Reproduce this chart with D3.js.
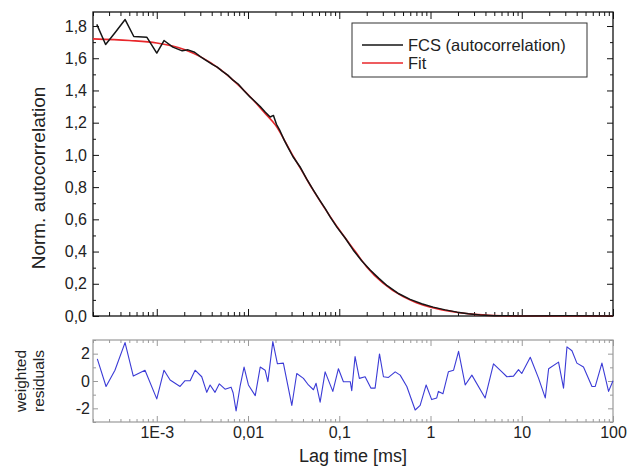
<!DOCTYPE html>
<html>
<head>
<meta charset="utf-8">
<script src="https://cdn.jsdelivr.net/npm/d3@7"></script>
<style>
  body { margin: 0; background: #fff; }
  svg { font-family: Arial, "Liberation Sans", sans-serif; }
</style>
</head>
<body>
<svg id="chart"></svg>
<script>
// Chart size
const width = 634, height = 468;

// Lag time axis (ms), shared by both panels
const lagDomain = [2e-4, 100];
const lagTicks = [1e-3, 1e-2, 1e-1, 1, 10, 100];
const lagTickLabels = ["1E-3", "0,01", "0,1", "1", "10", "100"];

// Autocorrelation axis
const corrTicks = [0, 0.2, 0.4, 0.6, 0.8, 1.0, 1.2, 1.4, 1.6, 1.8];
const corrTickLabels = ["0,0", "0,2", "0,4", "0,6", "0,8", "1,0", "1,2", "1,4", "1,6", "1,8"];

// Residual axis
const resTicks = [-2, 0, 2];
const resTickLabels = ["-2", "0", "2"];

// FCS data: lag time (ms), normalised autocorrelation
const fcsLag = [2.2e-4, 2.75e-4, 3.5e-4, 4.5e-4, 5.6e-4, 7.8e-4, 1.0e-3, 1.2e-3, 1.5e-3, 1.9e-3,
  2.2e-3, 2.6e-3, 3.0e-3, 3.4e-3, 4.1e-3, 4.6e-3, 5.2e-3, 6.0e-3, 6.9e-3, 7.8e-3,
  9.0e-3, 0.0105, 0.012, 0.0136, 0.0155, 0.0175, 0.019, 0.0205, 0.0224, 0.025,
  0.0275, 0.031, 0.0372, 0.044, 0.0516, 0.0617, 0.0705, 0.0794, 0.0946, 0.116,
  0.142, 0.175, 0.218, 0.27, 0.335, 0.45, 0.598, 0.8, 1.07, 1.45,
  1.96, 2.6, 3.5, 5, 9.6, 30, 100];
const fcsValue = [1.81, 1.685, 1.76, 1.84, 1.735, 1.73, 1.632, 1.71, 1.669, 1.646,
  1.652, 1.637, 1.61, 1.59, 1.56, 1.545, 1.52, 1.495, 1.462, 1.44,
  1.40, 1.36, 1.33, 1.30, 1.265, 1.235, 1.245, 1.19, 1.15, 1.09,
  1.045, 0.99, 0.925, 0.85, 0.785, 0.715, 0.665, 0.615, 0.55, 0.484,
  0.41, 0.345, 0.286, 0.235, 0.188, 0.138, 0.103, 0.076, 0.055, 0.038,
  0.024, 0.014, 0.006, 0.002, 0.0, 0.002, 0.0];

// Fit curve
const fitLag = [2e-4, 5e-4, 1e-3, 2e-3, 3e-3, 5e-3, 7e-3, 0.01, 0.015, 0.02,
  0.03, 0.04, 0.05, 0.07, 0.1, 0.15, 0.2, 0.3, 0.5, 0.7,
  1, 2, 3, 5, 10, 100];
const fitValue = [1.72, 1.71, 1.695, 1.655, 1.61, 1.53, 1.46, 1.375, 1.265, 1.185,
  1.01, 0.89, 0.795, 0.665, 0.535, 0.40, 0.305, 0.205, 0.12, 0.083,
  0.055, 0.022, 0.01, 0.003, 0.0, 0.0];

// Weighted residuals
const resLag = [2.23e-4, 2.78e-4, 3.48e-4, 4.49e-4, 5.53e-4, 7.43e-4, 1.0e-3, 1.2e-3, 1.4e-3, 1.8e-3,
  2.04e-3, 2.32e-3, 2.63e-3, 3.11e-3, 3.53e-3, 3.84e-3, 4.35e-3, 4.85e-3, 5.6e-3, 6.52e-3,
  6.86e-3, 7.4e-3, 8.18e-3, 9.05e-3, 0.0101, 0.012, 0.0136, 0.0154, 0.0165, 0.0187,
  0.021, 0.0244, 0.0302, 0.0342, 0.0405, 0.0459, 0.0521, 0.0557, 0.0617, 0.07,
  0.085, 0.0979, 0.111, 0.132, 0.137, 0.149, 0.166, 0.192, 0.222, 0.247,
  0.276, 0.305, 0.346, 0.41, 0.465, 0.55, 0.679, 0.77, 0.896, 1.03,
  1.17, 1.22, 1.37, 1.57, 1.79, 2.03, 2.4, 2.84, 3.97, 4.9,
  6.06, 6.87, 8.12, 9.21, 10.0, 12.4, 15.3, 18.1, 19.7, 25.3,
  28.7, 31.3, 35.5, 40.2, 47.5, 58.8, 63.9, 75.6, 89.4, 100];
const resValue = [1.62, -0.4, 0.79, 2.81, 0.36, 0.79, -1.31, 0.79, 0.07, -0.4,
  0.02, 0.02, 0.79, 0.31, -0.83, -0.29, -0.83, -0.21, -0.6, -0.45,
  -0.86, -2.19, -0.4, 1.02, -0.29, -1.07, 1.02, 0.79, -0.05, 2.88,
  1.26, 1.31, -1.79, 0.55, 0.19, -0.29, -0.64, -0.17, -1.55, 0.67,
  -0.76, 0.9, -0.05, -0.05, -0.71, 1.79, 0.19, 0.31, -0.52, -0.52,
  1.98, 0.31, 0.26, 0.67, 0.43, -0.4, -2.12, -1.79, -0.29, -1.36,
  -1.24, -0.76, -0.93, 0.67, 0.79, 2.17, -0.29, 0.43, -1.24, 1.26,
  0.67, 0.31, 0.36, 0.83, 0.55, 1.74, 0.19, -1.24, 0.9, 1.38,
  -0.52, 2.5, 2.21, 1.31, 1.02, -0.4, -0.4, 1.31, -0.76, 0.02];

// Panel geometry
const left = 93, right = 613;
const top1 = 12, bottom1 = 316;
const top2 = 340, bottom2 = 422;

const svg = d3.select("#chart").attr("width", width).attr("height", height);

const x = d3.scaleLog().domain(lagDomain).range([left, right]);
const yCorr = d3.scaleLinear().domain([0, 1.887]).range([bottom1, top1]);
const yRes = d3.scaleLinear().domain([-3, 3]).range([bottom2, top2]);

// minor ticks on the log axis: 2..9 of every decade
const lagMinor = [];
for (let d = -4; d <= 1; d++)
  for (let k = 2; k <= 9; k++) {
    const v = k * Math.pow(10, d);
    if (v >= lagDomain[0] && v <= lagDomain[1]) lagMinor.push(v);
  }
const corrMinor = d3.range(1, 19, 2).map(i => i / 10);
const resMinor = [-3, -1, 1, 3];

function fmtFrom(ticks, labels) {
  return v => labels[ticks.findIndex(t => Math.abs(t - v) < 1e-9)];
}

function addAxis(axis, tx, ty, color) {
  const g = svg.append("g")
    .attr("transform", `translate(${tx},${ty})`)
    .call(axis);
  g.select(".domain").remove();
  g.selectAll(".tick line").attr("stroke", color).attr("stroke-width", 1);
  g.selectAll("text").attr("font-size", 16).attr("fill", "#222");
  return g;
}

// ---- top panel: autocorrelation ----
addAxis(d3.axisBottom(x).tickValues(lagTicks).tickSize(-7).tickFormat(""), 0, bottom1, "#111");
addAxis(d3.axisBottom(x).tickValues(lagMinor).tickSize(-4).tickFormat(""), 0, bottom1, "#111");
addAxis(d3.axisTop(x).tickValues(lagTicks).tickSize(-7).tickFormat(""), 0, top1, "#111");
addAxis(d3.axisTop(x).tickValues(lagMinor).tickSize(-4).tickFormat(""), 0, top1, "#111");
addAxis(d3.axisLeft(yCorr).tickValues(corrTicks).tickSize(-6).tickPadding(6)
  .tickFormat(fmtFrom(corrTicks, corrTickLabels)), left, 0, "#111");
addAxis(d3.axisLeft(yCorr).tickValues(corrMinor).tickSize(-3).tickFormat(""), left, 0, "#111");
addAxis(d3.axisRight(yCorr).tickValues(corrTicks).tickSize(-6).tickFormat(""), right, 0, "#111");
addAxis(d3.axisRight(yCorr).tickValues(corrMinor).tickSize(-3).tickFormat(""), right, 0, "#111");

svg.append("rect")
  .attr("x", left).attr("y", top1)
  .attr("width", right - left).attr("height", bottom1 - top1)
  .attr("fill", "none").attr("stroke", "#111").attr("stroke-width", 1.3);

const fcsData = fcsLag.map((t, i) => [t, fcsValue[i]]);
const fitData = fitLag.map((t, i) => [t, fitValue[i]]);

svg.append("path")
  .datum(fitData)
  .attr("fill", "none").attr("stroke", "#e8262a").attr("stroke-width", 1.6)
  .attr("d", d3.line().x(d => x(d[0])).y(d => yCorr(d[1])).curve(d3.curveMonotoneX));

svg.append("path")
  .datum(fcsData)
  .attr("fill", "none").attr("stroke", "#151515").attr("stroke-width", 1.5)
  .attr("stroke-linejoin", "round")
  .attr("d", d3.line().x(d => x(d[0])).y(d => yCorr(d[1])));

// legend
const legend = svg.append("g").attr("transform", "translate(352,23)");
legend.append("rect")
  .attr("width", 235).attr("height", 54)
  .attr("fill", "#fff").attr("stroke", "#333").attr("stroke-width", 1);
const legendItems = [
  { name: "FCS (autocorrelation)", color: "#151515" },
  { name: "Fit", color: "#e8262a" }
];
legendItems.forEach((d, i) => {
  const yy = 22 + i * 18;
  legend.append("line")
    .attr("x1", 10).attr("x2", 51).attr("y1", yy).attr("y2", yy)
    .attr("stroke", d.color).attr("stroke-width", 1.5);
  legend.append("text")
    .attr("x", 56).attr("y", yy + 6)
    .attr("font-size", 16.5).attr("fill", "#222")
    .text(d.name);
});

svg.append("text")
  .attr("transform", `translate(45,178) rotate(-90)`)
  .attr("text-anchor", "middle")
  .attr("font-size", 19).attr("fill", "#222")
  .text("Norm. autocorrelation");

// ---- bottom panel: weighted residuals ----
const grey = "#9a9a9a";
addAxis(d3.axisBottom(x).tickValues(lagTicks).tickSize(-6).tickPadding(5)
  .tickFormat(fmtFrom(lagTicks, lagTickLabels)), 0, bottom2, grey);
addAxis(d3.axisBottom(x).tickValues(lagMinor).tickSize(-3).tickFormat(""), 0, bottom2, grey);
addAxis(d3.axisTop(x).tickValues(lagTicks).tickSize(-6).tickFormat(""), 0, top2, grey);
addAxis(d3.axisTop(x).tickValues(lagMinor).tickSize(-3).tickFormat(""), 0, top2, grey);
addAxis(d3.axisLeft(yRes).tickValues(resTicks).tickSize(-5).tickPadding(3)
  .tickFormat(fmtFrom(resTicks, resTickLabels)), left, 0, grey);
addAxis(d3.axisLeft(yRes).tickValues(resMinor).tickSize(-3).tickFormat(""), left, 0, grey);
addAxis(d3.axisRight(yRes).tickValues(resTicks).tickSize(-5).tickFormat(""), right, 0, grey);
addAxis(d3.axisRight(yRes).tickValues(resMinor).tickSize(-3).tickFormat(""), right, 0, grey);

svg.append("rect")
  .attr("x", left).attr("y", top2)
  .attr("width", right - left).attr("height", bottom2 - top2)
  .attr("fill", "none").attr("stroke", grey).attr("stroke-width", 1.2);

const resData = resLag.map((t, i) => [t, resValue[i]]);
svg.append("path")
  .datum(resData)
  .attr("fill", "none").attr("stroke", "#3b3bd6").attr("stroke-width", 1.1)
  .attr("stroke-linejoin", "round")
  .attr("d", d3.line().x(d => x(d[0])).y(d => yRes(d[1])));

const resTitle = svg.append("text")
  .attr("transform", `translate(0,381) rotate(-90)`)
  .attr("text-anchor", "middle")
  .attr("font-size", 15.5).attr("fill", "#222");
resTitle.append("tspan").attr("x", 0).attr("y", 26).text("weighted");
resTitle.append("tspan").attr("x", 0).attr("y", 44).text("residuals");

svg.append("text")
  .attr("x", (left + right) / 2).attr("y", 462)
  .attr("text-anchor", "middle")
  .attr("font-size", 18).attr("fill", "#222")
  .text("Lag time [ms]");
</script>
</body>
</html>
